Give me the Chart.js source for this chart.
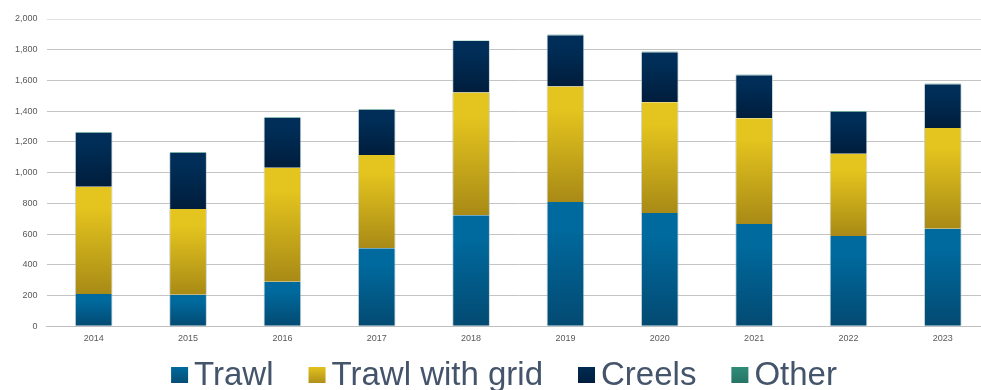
<!DOCTYPE html>
<html><head><meta charset="utf-8">
<script src="https://cdn.jsdelivr.net/npm/chart.js@4.4.0/dist/chart.umd.min.js"></script>
<style>
html,body{margin:0;padding:0;background:#fff;overflow:hidden;}
#wrap{position:relative;width:990px;height:390px;}
</style></head>
<body><div id="wrap"><canvas id="c"></canvas></div>
<script>
const years = ['2014','2015','2016','2017','2018','2019','2020','2021','2022','2023'];
const trawl = [210, 204, 289, 508, 722, 808, 737, 665, 587, 634];
const trawlGrid = [698, 559, 743, 607, 799, 752, 721, 689, 536, 657];
const creels = [352, 367, 324, 293, 335, 335, 326, 280, 272, 285];
const other = [4, 4, 4, 4, 4, 4, 4, 4, 4, 4];
const seriesNames = ['Trawl', 'Trawl with grid', 'Creels', 'Other'];
const seriesData = [trawl, trawlGrid, creels, other];
const gradStops = [
  ['#006a9e', '#034a72'],
  ['#e4c41e', '#a88a16'],
  ['#002e58', '#001d3c'],
  ['#2f8a78', '#2a7a6a']
];
const legendColors = [['#00699c','#064d74'], ['#e2c11d','#b0901a'], ['#002a52','#001e3e'], ['#2f8c7a','#277564']];

function segGradient(ctx, si) {
  const chart = ctx.chart;
  const y = chart.scales && chart.scales.y;
  if (!y || !chart.chartArea || ctx.type !== 'data') return gradStops[si][0];
  const i = ctx.dataIndex;
  let base = 0;
  for (let k = 0; k < si; k++) base += seriesData[k][i];
  const top = base + seriesData[si][i];
  const yTop = y.getPixelForValue(top);
  const yBot = y.getPixelForValue(base);
  if (!isFinite(yTop) || !isFinite(yBot) || yTop === yBot) return gradStops[si][0];
  const g = chart.ctx.createLinearGradient(0, yTop, 0, yBot);
  g.addColorStop(0, gradStops[si][0]);
  g.addColorStop(0.2, gradStops[si][0]);
  g.addColorStop(1, gradStops[si][1]);
  return g;
}

const datasets = seriesNames.map((name, si) => ({
  label: name,
  data: seriesData[si],
  backgroundColor: (ctx) => segGradient(ctx, si),
  borderColor: 'rgba(180,195,200,0.7)',
  borderWidth: {left:1, right:1, top:0, bottom:0},
  borderSkipped: false,
  barPercentage: 0.4,
  categoryPercentage: 1.0
}));

// Legend drawn in canvas (text kept as real text via fillText)
const bottomLegend = {
  id: 'bottomLegend',
  afterDraw(chart) {
    const c = chart.ctx;
    const fontSize = 33;
    const box = 17, gapBoxText = 6, gapItems = 35;
    c.save();
    c.font = fontSize + 'px "Liberation Sans", Arial, sans-serif';
    c.textBaseline = 'alphabetic';
    const widths = seriesNames.map(n => c.measureText(n).width);
    let total = 0;
    widths.forEach((w, i) => { total += box + gapBoxText + w + (i < widths.length - 1 ? gapItems : 0); });
    let x = 504 - total / 2;
    const baseline = 385;
    seriesNames.forEach((n, i) => {
      const g = c.createLinearGradient(0, baseline - 18, 0, baseline - 2);
      g.addColorStop(0, legendColors[i][0]);
      g.addColorStop(1, legendColors[i][1]);
      c.fillStyle = g;
      c.fillRect(x, baseline - 18, box, 16);
      x += box + gapBoxText;
      c.fillStyle = '#44546a';
      c.fillText(n, x, baseline);
      x += widths[i] + gapItems;
    });
    c.restore();
  }
};

new Chart(document.getElementById('c'), {
  type: 'bar',
  data: { labels: years, datasets },
  options: {
    responsive: true,
    maintainAspectRatio: false,
    animation: false,
    layout: { padding: { top: 19, left: 6, right: 0, bottom: 39 } },
    scales: {
      x: {
        stacked: true,
        grid: { display: false, drawTicks: false },
        border: { display: true, color: '#bfbfbf', width: 1 },
        ticks: { color: '#595959', font: { family: 'Liberation Sans', size: 9 }, padding: 7 }
      },
      y: {
        stacked: true,
        min: 0, max: 2000,
        ticks: { stepSize: 200, color: '#595959', font: { family: 'Liberation Sans', size: 9 }, padding: 9 },
        grid: { color: (ctx) => ctx.tick && ctx.tick.value === 2000 ? '#e2e2e2' : '#c4c4c4', lineWidth: 1, drawTicks: false },
        border: { display: false }
      }
    },
    plugins: {
      tooltip: { enabled: false },
      legend: { display: false }
    }
  },
  plugins: [bottomLegend]
});
</script></body></html>
